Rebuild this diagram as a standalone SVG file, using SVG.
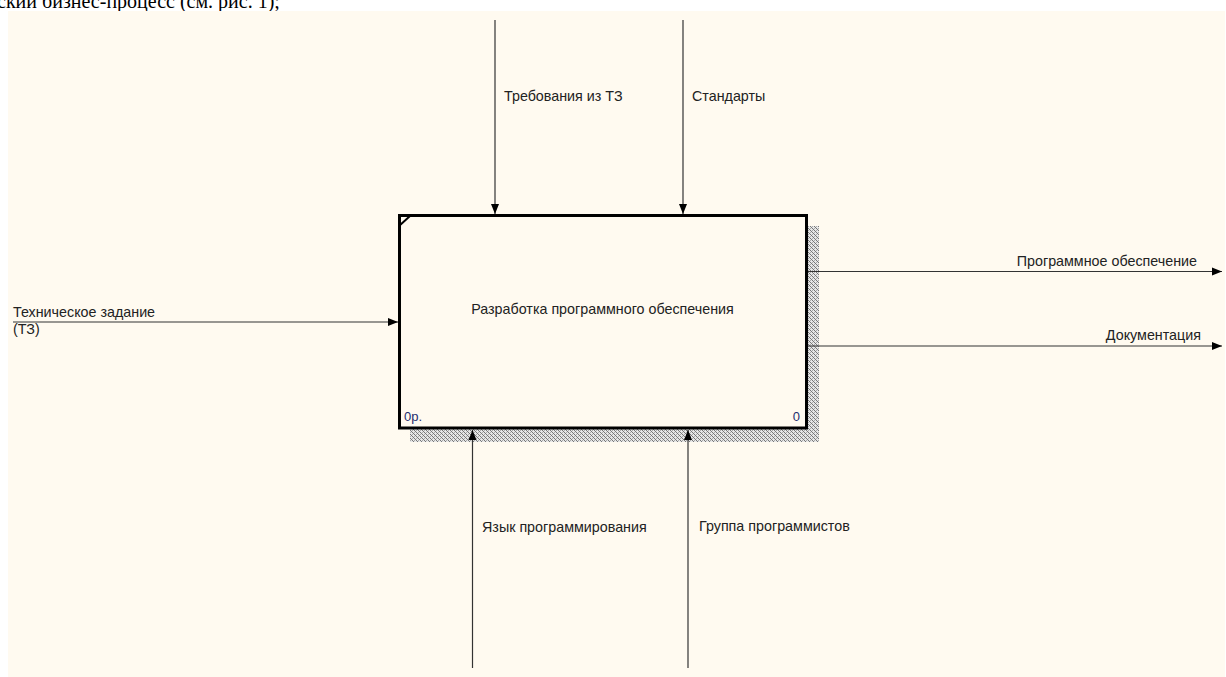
<svg xmlns="http://www.w3.org/2000/svg" width="1226" height="677" viewBox="0 0 1226 677">
  <style>
    .lbl { font-family: "Liberation Sans", Arial, sans-serif; font-size: 14.3px; fill: #222; }
    .num { font-family: "Liberation Sans", Arial, sans-serif; font-size: 13px; fill: #1e2e6e; }
    .flow { stroke: #333; stroke-width: 1.2; fill: none; marker-end: url(#head); }
    .page { font-family: "Liberation Serif", "Times New Roman", serif; font-size: 20px; fill: #000; }
  </style>
  <defs>
    <marker id="head" viewBox="0 0 10 10" refX="10" refY="5" markerWidth="10" markerHeight="10" markerUnits="userSpaceOnUse" orient="auto">
      <path d="M0,1 L10,5 L0,9 Z" fill="#000"/>
    </marker>
    <!-- dithered shadow fill -->
    <pattern id="dither" width="4" height="4" patternUnits="userSpaceOnUse">
      <rect width="4" height="4" fill="#e6e6e6"/>
      <rect x="0" y="0" width="1" height="1" fill="#777"/>
      <rect x="1" y="1" width="1" height="1" fill="#777"/>
      <rect x="2" y="2" width="1" height="1" fill="#777"/>
      <rect x="3" y="3" width="1" height="1" fill="#777"/>
      <rect x="2" y="0" width="1" height="1" fill="#aaa"/>
      <rect x="0" y="2" width="1" height="1" fill="#aaa"/>
    </pattern>
  </defs>

  <rect width="1226" height="677" fill="#fff"/>
  <text class="page" x="-3" y="8">ский бизнес-процесс (см. рис. 1);</text>
  <rect x="8" y="11" width="1217" height="666" fill="#FFFAF0"/>

  <g id="node-A0">
    <rect x="410" y="226" width="409" height="216" fill="url(#dither)"/>
    <rect x="399.5" y="215.5" width="407" height="212.5" fill="#FFFAF0" stroke="#000" stroke-width="3"/>
    <line x1="399" y1="226" x2="410" y2="216" stroke="#000" stroke-width="2"/>
    <text class="lbl" x="602.5" y="314" text-anchor="middle">Разработка программного обеспечения</text>
    <text class="num" x="404" y="421">0р.</text>
    <text class="num" x="800" y="421" text-anchor="end">0</text>
  </g>

  <g id="connectors">
    <line class="flow" x1="495" y1="20" x2="495" y2="214"/>
    <line class="flow" x1="683" y1="20" x2="683" y2="214"/>
    <line class="flow" x1="13" y1="322" x2="398" y2="322"/>
    <line class="flow" x1="808" y1="271.5" x2="1222" y2="271.5"/>
    <line class="flow" x1="808" y1="346" x2="1222" y2="346"/>
    <line class="flow" x1="472.5" y1="668" x2="472.5" y2="430"/>
    <line class="flow" x1="688" y1="668" x2="688" y2="430"/>

    <text class="lbl" x="504" y="101">Требования из ТЗ</text>
    <text class="lbl" x="692" y="101">Стандарты</text>
    <text class="lbl" x="13" y="316.5">Техническое задание</text>
    <text class="lbl" x="13" y="334">(ТЗ)</text>
    <text class="lbl" x="1197" y="266" text-anchor="end">Программное обеспечение</text>
    <text class="lbl" x="1201" y="340" text-anchor="end">Документация</text>
    <text class="lbl" x="482" y="532">Язык программирования</text>
    <text class="lbl" x="699" y="531">Группа программистов</text>
  </g>
</svg>
